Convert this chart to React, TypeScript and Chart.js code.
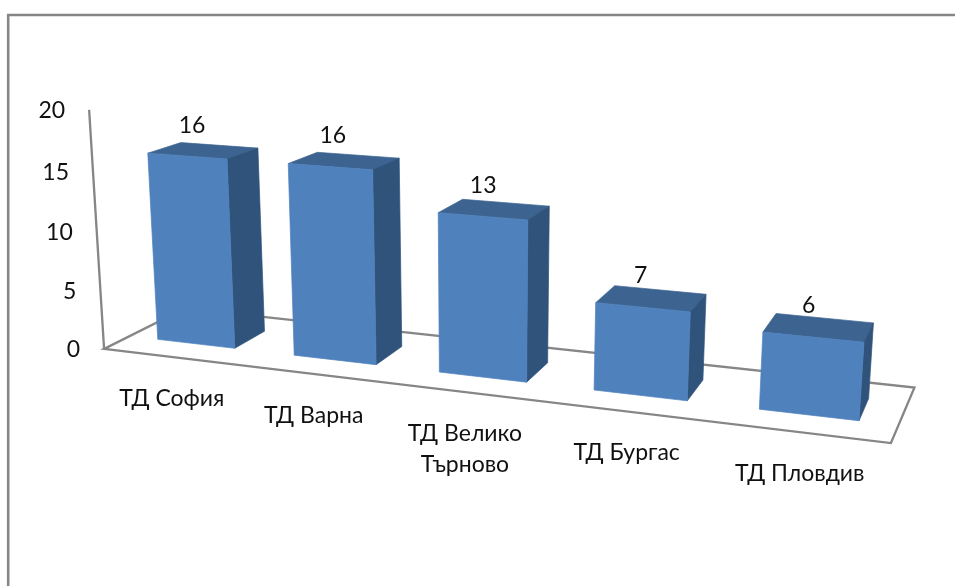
import React, { useEffect, useRef } from "react";
import { Chart, registerables } from "chart.js";

Chart.register(...registerables);

const categories: (string | string[])[] = ["ТД София", "ТД Варна", ["ТД Велико", "Търново"], "ТД Бургас", "ТД Пловдив"];
const values = [16, 16, 13, 7, 6];
const yMax = 20;
const yStep = 5;

const FRONT = "#4f81bd";
const SIDE = "#30537b";
const TOP = "#3d6491";
const LINE = "#868686";
const TEXT = "#111111";
const FONT = '23px Lato, "Noto Sans", sans-serif';

// Perspective view of the flat (category, value, depth) space
const view = {
  x0: 157.3, y0: 339.3,
  ax: 127.87, ay: 5.2, wx: -0.03004,
  bx: -0.8985, by: -11.92, wy: -0.001857,
  cx: 38.35, cy: -5.3, wz: 0.03468,
  xMin: -0.21, xMax: 4.78, zFront: -0.74, zBack: 1.74,
};

function project(X: number, Y: number, Z: number) {
  const v = view;
  const w = 1 + v.wx * X + v.wy * Y + v.wz * Z;
  return {
    x: (v.x0 + v.ax * X + v.bx * Y + v.cx * Z) / w,
    y: (v.y0 + v.ay * X + v.by * Y + v.cy * Z) / w,
  };
}

function poly(ctx: CanvasRenderingContext2D, pts: { x: number; y: number }[], fill: string) {
  ctx.beginPath();
  pts.forEach((p, i) => (i ? ctx.lineTo(p.x, p.y) : ctx.moveTo(p.x, p.y)));
  ctx.closePath();
  ctx.fillStyle = fill;
  ctx.strokeStyle = fill;
  ctx.lineWidth = 0.7;
  ctx.fill();
  ctx.stroke();
}

const scene3d = {
  id: "scene3d",
  beforeDatasetsDraw(chart: any) {
    const { ctx, chartArea: area, scales } = chart;
    const xs = scales.x;
    const ys = scales.y;
    const toX = (px: number) =>
      view.xMin + ((view.xMax - view.xMin) * (px - area.left)) / (area.right - area.left);
    const unit = (view.xMax - view.xMin) / (area.right - area.left);

    ctx.save();
    ctx.lineCap = "butt";
    ctx.lineJoin = "miter";

    // outer frame, open on the right and at the bottom
    ctx.strokeStyle = LINE;
    ctx.lineWidth = 2.6;
    ctx.beginPath();
    ctx.moveTo(8.2, 586);
    ctx.lineTo(8.2, 15);
    ctx.lineTo(955, 15);
    ctx.stroke();

    // floor and value axis
    const fl = project(view.xMin, 0, view.zFront);
    const fr = project(view.xMax, 0, view.zFront);
    const br = project(view.xMax + 0.02, 0, view.zBack);
    const bl = project(view.xMin, 0, view.zBack);
    const axisTop = project(view.xMin, ys.max, view.zFront);
    ctx.lineWidth = 2.3;
    ctx.beginPath();
    ctx.moveTo(fl.x, fl.y);
    ctx.lineTo(fr.x, fr.y);
    ctx.lineTo(br.x, br.y);
    ctx.lineTo(bl.x, bl.y);
    ctx.closePath();
    ctx.moveTo(fl.x, fl.y);
    ctx.lineTo(axisTop.x, axisTop.y);
    ctx.stroke();

    // value tick labels
    ctx.font = FONT;
    ctx.fillStyle = TEXT;
    ctx.textAlign = "right";
    ctx.textBaseline = "middle";
    ys.ticks.forEach((t: any) => {
      const p = project(view.xMin, t.value, view.zFront);
      ctx.fillText(String(t.value), p.x - 24, p.y + 1);
    });

    // category labels
    ctx.textAlign = "center";
    const meta = chart.getDatasetMeta(0);
    meta.data.forEach((el: any, i: number) => {
      const p = project(toX(el.x), 0, view.zFront);
      const label = xs.getLabels()[i];
      const lines = Array.isArray(label) ? label : [label];
      lines.forEach((s: string, j: number) => ctx.fillText(s, p.x, p.y + 41.5 + j * 31));
    });

    // bars
    meta.data.forEach((el: any, i: number) => {
      const cx = toX(el.x);
      const half = (el.width * unit) / 2;
      const x1 = cx - half;
      const x2 = cx + half;
      const v = ys.getValueForPixel(el.y);
      const v0 = ys.getValueForPixel(el.base);
      poly(ctx, [project(x1, v, 0), project(x2, v, 0), project(x2, v, 1), project(x1, v, 1)], TOP);
      poly(ctx, [project(x2, v0, 0), project(x2, v, 0), project(x2, v, 1), project(x2, v0, 1)], SIDE);
      poly(ctx, [project(x1, v0, 0), project(x2, v0, 0), project(x2, v, 0), project(x1, v, 0)], FRONT);

      const lp = project(cx, v, 0.15);
      ctx.fillStyle = TEXT;
      ctx.fillText(String(values[i]), lp.x - 1.5 * i, lp.y - 29);
    });
    ctx.restore();
    return false;
  },
};

export default function App() {
  const ref = useRef<HTMLCanvasElement>(null);
  useEffect(() => {
    const chart = new Chart(ref.current!, {
      type: "bar",
      data: {
        labels: categories as any,
        datasets: [{ data: values, backgroundColor: FRONT, barPercentage: 0.572, categoryPercentage: 1 }],
      },
      options: {
        animation: false,
        responsive: false,
        layout: { padding: { left: 100, right: 60, top: 100, bottom: 130 } },
        plugins: { legend: { display: false }, tooltip: { enabled: false } },
        scales: {
          x: { display: false },
          y: { display: false, min: 0, max: yMax, ticks: { stepSize: yStep } },
        },
      },
      plugins: [scene3d as any],
    });
    return () => chart.destroy();
  }, []);
  return (
    <div style={{ position: "fixed", left: 0, top: 0, width: 955, height: 586, background: "#fff" }}>
      <canvas ref={ref} width={955} height={586} style={{ display: "block" }} />
    </div>
  );
}
